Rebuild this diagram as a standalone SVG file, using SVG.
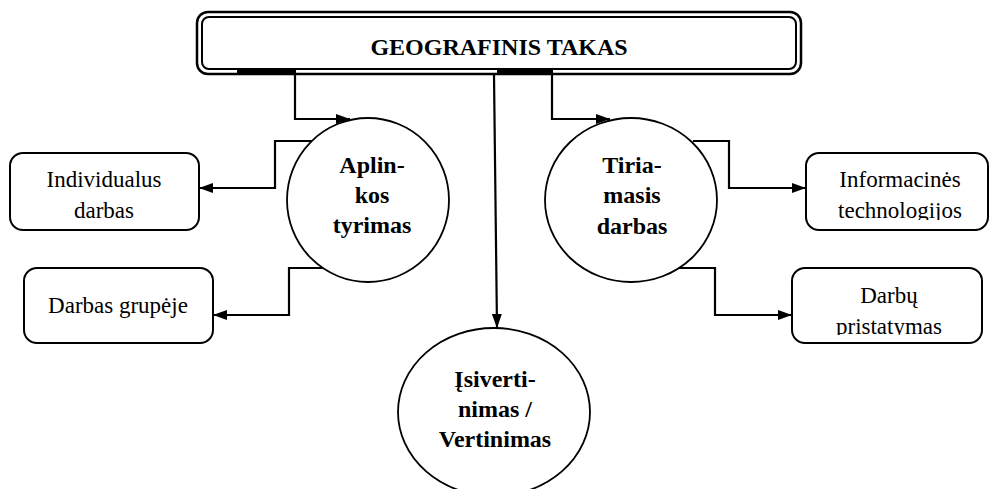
<svg xmlns="http://www.w3.org/2000/svg" width="989" height="489" viewBox="0 0 989 489">
<style>
  .box { fill: #fff; stroke: #000; stroke-width: 2; }
  .node { fill: #fff; stroke: #000; stroke-width: 1.8; }
  text { font-family: 'Liberation Serif', 'DejaVu Serif', 'Times New Roman', Times, serif; fill: #000; text-anchor: middle; }
  .lbl { font-size: 23px; }
  .blbl { font-size: 24px; font-weight: bold; }
  .conn { fill: none; stroke: #000; stroke-width: 2.2; }
</style>
<defs>
  <marker id="arr" viewBox="0 0 14 10" refX="14" refY="5" markerWidth="14" markerHeight="10" markerUnits="userSpaceOnUse" orient="auto">
    <path d="M0,0 L14,5 L0,10 Z" fill="#000"/>
  </marker>
  <clipPath id="clipInfo"><rect x="800" y="140" width="189" height="80"/></clipPath>
  <clipPath id="clipDarbu"><rect x="790" y="260" width="199" height="75"/></clipPath>
</defs>
<rect width="989" height="489" fill="#fff"/>

<g id="top">
  <rect x="197" y="12" width="604" height="62" rx="11" fill="#fff" stroke="#000" stroke-width="2.5"/>
  <rect x="202" y="17" width="594" height="52" rx="7" fill="none" stroke="#000" stroke-width="2"/>
  <rect x="237" y="70" width="59" height="5" fill="#000"/>
  <rect x="497" y="70" width="56" height="5" fill="#000"/>
  <text class="blbl" x="499" y="55" font-family="Liberation Serif, serif" font-size="23">GEOGRAFINIS TAKAS</text>
</g>

<g id="connectors">
  <polyline class="conn" points="295,75 295,119 350,119" marker-end="url(#arr)"/>
  <polyline class="conn" points="552,75 552,119 610,119" marker-end="url(#arr)"/>
  <polyline class="conn" points="494,75 497,328" marker-end="url(#arr)"/>
  <polyline class="conn" points="312,141 275,141 275,188 199,188" marker-end="url(#arr)"/>
  <polyline class="conn" points="328,268 289,268 289,315 213,315" marker-end="url(#arr)"/>
  <polyline class="conn" points="693,141 729,141 729,188 806,188" marker-end="url(#arr)"/>
  <polyline class="conn" points="678,268 715,268 715,315 792,315" marker-end="url(#arr)"/>
</g>

<g id="aplinkos" font-family="Liberation Serif, serif">
  <ellipse class="node" cx="368" cy="200" rx="81" ry="82"/>
  <text class="blbl" x="372" y="173">Aplin-</text>
  <text class="blbl" x="372" y="203">kos</text>
  <text class="blbl" x="372" y="233">tyrimas</text>
</g>

<g id="tiriamasis">
  <ellipse class="node" cx="631" cy="200" rx="86" ry="82"/>
  <text class="blbl" x="632" y="173">Tiria-</text>
  <text class="blbl" x="632" y="203">masis</text>
  <text class="blbl" x="632" y="234">darbas</text>
</g>

<g id="isivertinimas">
  <ellipse class="node" cx="494" cy="412" rx="96" ry="84"/>
  <text class="blbl" x="495" y="387">Įsiverti-</text>
  <text class="blbl" x="495" y="417">nimas /</text>
  <text class="blbl" x="495" y="447">Vertinimas</text>
</g>

<g id="individualus">
  <rect class="box" x="10" y="153" width="189" height="77" rx="13"/>
  <text class="lbl" x="104" y="187">Individualus</text>
  <text class="lbl" x="104" y="218">darbas</text>
</g>

<g id="grupeje">
  <rect class="box" x="24" y="268" width="189" height="75" rx="13"/>
  <text class="lbl" x="118" y="313">Darbas grupėje</text>
</g>

<g id="informacines">
  <rect class="box" x="806" y="153" width="182" height="77" rx="13"/>
  <g clip-path="url(#clipInfo)">
    <text class="lbl" x="900" y="187">Informacinės</text>
    <text class="lbl" x="900" y="218">technologijos</text>
  </g>
</g>

<g id="darbu">
  <rect class="box" x="792" y="268" width="190" height="75" rx="13"/>
  <g clip-path="url(#clipDarbu)">
    <text class="lbl" x="889" y="303">Darbų</text>
    <text class="lbl" x="889" y="334">pristatymas</text>
  </g>
</g>
</svg>
